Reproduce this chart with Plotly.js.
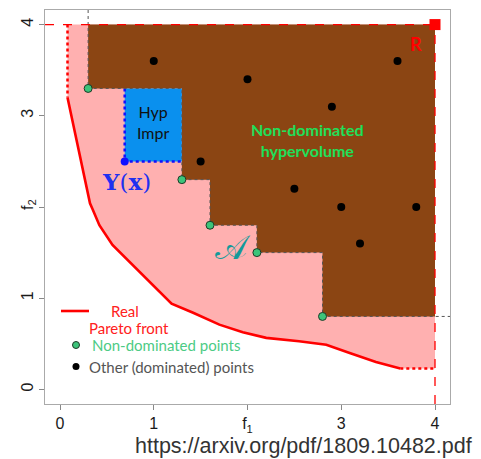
<!DOCTYPE html>
<html>
<head>
<meta charset="utf-8">
<script src="https://cdn.plot.ly/plotly-3.0.1.min.js"></script>
<style>html,body{margin:0;padding:0;background:#fff;}#chart{width:481px;height:459px;}</style>
</head>
<body>
<div id="chart"></div>
<script>
// ---- data ----
const frontX = [0.08, 0.27, 0.32, 0.35, 0.42, 0.56, 0.81, 1.03, 1.19, 1.42, 1.70, 1.95, 2.20, 2.55, 2.84, 3.09, 3.37, 3.63];
const frontY = [3.20, 2.30, 2.04, 1.97, 1.80, 1.585, 1.33, 1.11, 0.94, 0.84, 0.71, 0.626, 0.565, 0.528, 0.49, 0.40, 0.30, 0.23];
const ndX = [0.3, 1.3, 1.6, 2.1, 2.8];
const ndY = [3.3, 2.3, 1.8, 1.5, 0.8];
const domX = [1.0, 1.5, 2.0, 2.9, 3.6, 2.5, 3.0, 3.8, 3.2];
const domY = [3.6, 2.5, 3.4, 3.1, 3.6, 2.2, 2.0, 2.0, 1.6];
const refPoint = [4, 4];
const newPoint = [0.69, 2.5];        // Y(x)
const xTickVals = [0, 1, 2, 3, 4];
const xTickText = ['0', '1', 'f<sub>1</sub>', '3', '4'];
const yTickVals = [0, 1, 2, 3, 4];
const yTickText = ['0', '1', 'f<sub>2</sub>', '3', '4'];
const axRange = [-0.16, 4.16];

// ---- derived geometry ----
const pinkX = frontX.concat([refPoint[0], refPoint[0], frontX[0]]);
const pinkY = frontY.concat([frontY[frontY.length-1], refPoint[1], refPoint[1]]);

const brownX = [ndX[0]], brownY = [refPoint[1]];
for (let i = 0; i < ndX.length; i++) {
  brownX.push(ndX[i]); brownY.push(ndY[i]);
  const nx = i < ndX.length-1 ? ndX[i+1] : refPoint[0];
  brownX.push(nx); brownY.push(ndY[i]);
}
brownX.push(refPoint[0]); brownY.push(refPoint[1]);

const stairX = [ndX[0]], stairY = [axRange[1]];
for (let i = 0; i < ndX.length; i++) {
  stairX.push(ndX[i]); stairY.push(ndY[i]);
  const nx = i < ndX.length-1 ? ndX[i+1] : axRange[1];
  stairX.push(nx); stairY.push(ndY[i]);
}

const hx0 = newPoint[0], hy0 = newPoint[1], hx1 = ndX[1], hy1 = ndY[0];

const traces = [
  {x: pinkX, y: pinkY, mode: 'lines', fill: 'toself', fillcolor: '#FFB0B0', line: {width: 0}, hoverinfo: 'skip'},
  {x: brownX, y: brownY, mode: 'lines', fill: 'toself', fillcolor: '#8B4513', line: {width: 0}, hoverinfo: 'skip'},
  {x: [hx0, hx1, hx1, hx0, hx0], y: [hy0, hy0, hy1, hy1, hy0], mode: 'lines', fill: 'toself', fillcolor: '#0A90EE', line: {width: 0}, hoverinfo: 'skip'},
  {x: [hx0, hx0, hx1], y: [hy1, hy0, hy0], mode: 'lines', line: {color: '#1010FF', width: 2.5, dash: 'dot'}},
  {x: stairX, y: stairY, mode: 'lines', line: {color: '#555555', width: 1, dash: 'dot'}},
  // red reference lines
  {x: [axRange[0], refPoint[0]], y: [refPoint[1], refPoint[1]], mode: 'lines', line: {color: '#FF0000', width: 1.3, dash: 'dash'}},
  {x: [refPoint[0], refPoint[0]], y: [axRange[0], refPoint[1]], mode: 'lines', line: {color: '#FF0000', width: 1.3, dash: 'dash'}},
  {x: [frontX[0], frontX[0]], y: [refPoint[1], frontY[0]], mode: 'lines', line: {color: '#FF0000', width: 2.5, dash: 'dot'}},
  {x: [frontX[frontX.length-1], refPoint[0]], y: [frontY[frontY.length-1], frontY[frontY.length-1]], mode: 'lines', line: {color: '#FF0000', width: 2.5, dash: 'dot'}},
  {x: frontX, y: frontY, mode: 'lines', line: {color: '#FF0000', width: 2.6}},
  {x: domX, y: domY, mode: 'markers', marker: {color: '#000000', size: 8}},
  {x: ndX, y: ndY, mode: 'markers', marker: {color: '#3CC47A', size: 8, line: {color: '#1E3A28', width: 1}}},
  {x: [newPoint[0]], y: [newPoint[1]], mode: 'markers', marker: {color: '#1010FF', size: 8}},
  {x: [refPoint[0]], y: [refPoint[1]], mode: 'markers', marker: {color: '#FF0000', size: 11, symbol: 'square'}, cliponaxis: false}
];

function P(px, py, extra) {
  return Object.assign({x: (px-45)/405, y: (404-py)/394, xref: 'paper', yref: 'paper', xanchor: 'center', yanchor: 'middle', showarrow: false}, extra);
}

const ann = [
  {x: 0.99, y: 2.93, xref: 'x', yref: 'y', text: 'Hyp<br>Impr', showarrow: false, font: {family: 'Lato', size: 16, color: '#111'}},
  {x: 2.64, y: 2.73, xref: 'x', yref: 'y', text: '<b>Non-dominated<br>hypervolume</b>', showarrow: false, font: {family: 'Lato', size: 16, color: '#1EE05A'}},
  {x: 3.8, y: 3.79, xref: 'x', yref: 'y', text: '<b>R</b>', showarrow: false, font: {family: 'Lato', size: 18, color: '#FF0000'}},
  {x: 0.71, y: 2.28, xref: 'x', yref: 'y', text: '<b>Y</b>(<b>x</b>)', showarrow: false, font: {family: 'DejaVu Serif', size: 23, color: '#2030F0'}},
  {x: 1.84, y: 1.56, xref: 'x', yref: 'y', text: '\uD835\uDC9C', showarrow: false, font: {family: 'DejaVu Serif', size: 34, color: '#139A9A'}},
  // legend
  P(125, 310.5, {text: 'Real', font: {family: 'Lato', size: 15, color: '#FF2020'}}),
  P(129, 327.5, {text: 'Pareto front', font: {family: 'Lato', size: 15, color: '#FF2020'}}),
  P(90, 345, {xanchor: 'left', text: 'Non-dominated points', font: {family: 'Lato', size: 15, color: '#4CCB85'}}),
  P(87, 366.5, {xanchor: 'left', text: 'Other (dominated) points', font: {family: 'Lato', size: 15, color: '#555555'}}),
  P(474, 446, {xanchor: 'right', text: 'https://arxiv.org/pdf/1809.10482.pdf', font: {family: 'Liberation Sans', size: 21.5, color: '#333333'}})
];

const shapes = [
  {type: 'line', xref: 'paper', yref: 'paper', x0: (61-45)/405, x1: (89-45)/405, y0: (404-311)/394, y1: (404-311)/394, line: {color: '#FF0000', width: 2.6}},
  {type: 'circle', xref: 'paper', yref: 'paper', xsizemode: 'pixel', ysizemode: 'pixel', xanchor: (76-45)/405, yanchor: (404-345)/394, x0: -3.5, x1: 3.5, y0: -3.5, y1: 3.5, fillcolor: '#3CC47A', line: {color: '#1E3A28', width: 1}},
  {type: 'circle', xref: 'paper', yref: 'paper', xsizemode: 'pixel', ysizemode: 'pixel', xanchor: (76-45)/405, yanchor: (404-366.5)/394, x0: -3.5, x1: 3.5, y0: -3.5, y1: 3.5, fillcolor: '#000', line: {color: '#000', width: 0}}
];

const axisCommon = {
  showgrid: false, zeroline: false, showline: true, mirror: true, linecolor: '#AAAAAA', linewidth: 1,
  ticks: 'outside', ticklen: 5, tickcolor: '#888888', tickmode: 'array',
  tickfont: {family: 'Liberation Sans', size: 16, color: '#1a1a1a'}, range: axRange, fixedrange: true
};

const layout = {
  width: 481, height: 459,
  margin: {l: 45, r: 31, t: 10, b: 55},
  paper_bgcolor: '#FFFFFF', plot_bgcolor: '#FFFFFF',
  showlegend: false,
  xaxis: Object.assign({}, axisCommon, {tickvals: xTickVals, ticktext: xTickText}),
  yaxis: Object.assign({}, axisCommon, {tickvals: yTickVals, ticktext: yTickText, tickangle: -90}),
  annotations: ann,
  shapes: shapes
};

Plotly.newPlot('chart', traces, layout, {staticPlot: true});
</script>
</body>
</html>
